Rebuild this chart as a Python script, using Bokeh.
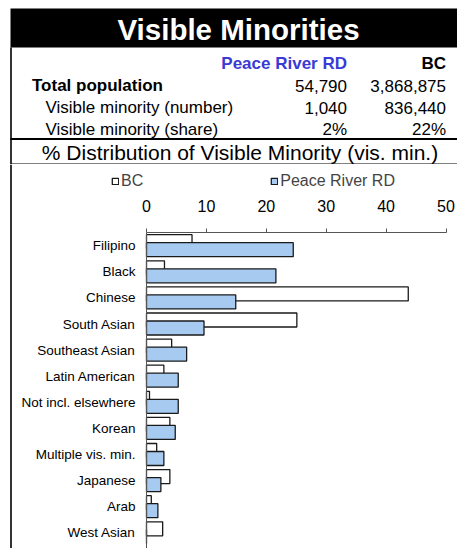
from bokeh.plotting import figure
from bokeh.layouts import column
from bokeh.models import (ColumnDataSource, Range1d, LinearAxis, FixedTicker, Legend,
                          LegendItem, Span)
from bokeh.core.properties import value
from bokeh.embed import file_html
from bokeh.resources import INLINE

# ---------------- data ----------------
title_text = "Visible Minorities"
subtitle_text = "% Distribution of Visible Minority (vis. min.)"
regions = ["Peace River RD", "BC"]
row_labels = ["Total population", "Visible minority (number)", "Visible minority (share)"]
total_population = [54790, 3868875]
vm_number = [1040, 836440]
vm_share = [2, 22]

categories = ["Filipino", "Black", "Chinese", "South Asian", "Southeast Asian",
              "Latin American", "Not incl. elsewhere", "Korean", "Multiple vis. min.",
              "Japanese", "Arab", "West Asian"]
bc_values = [7.6, 3.0, 43.7, 25.1, 4.2, 2.9, 0.5, 3.9, 1.7, 3.9, 0.8, 2.7]
pr_values = [24.5, 21.6, 14.9, 9.6, 6.7, 5.3, 5.3, 4.8, 2.9, 2.4, 1.9, 0.0]
x_ticks = [0, 10, 20, 30, 40, 50]

FONT = value("Liberation Sans")
W = 457
HEAD_H = 164
TOTAL_H = 548

# ---------------- header ----------------
ph = figure(width=W, height=HEAD_H, x_range=Range1d(0, W), y_range=Range1d(HEAD_H, 0),
            x_axis_type=None, y_axis_type=None, toolbar_location=None,
            output_backend="svg", min_border=0)
ph.outline_line_color = None
ph.quad(left=[10], right=[W], top=[8], bottom=[47], fill_color="black", line_color=None)
ph.segment(x0=[10.5], y0=[47], x1=[10.5], y1=[HEAD_H], line_color="black", line_width=1.6)
ph.segment(x0=[10], y0=[138.5], x1=[W], y1=[138.5], line_color="black", line_width=2)
ph.segment(x0=[10], y0=[163.5], x1=[W], y1=[163.5], line_color="black", line_width=1)

ph.text(x=[238], y=[29.3], text=[title_text], text_font=FONT, text_font_style="bold",
        text_font_size="29.5px", text_color="white", text_align="center",
        text_baseline="middle")

col_x = [346.5, 445.5]
ph.text(x=col_x, y=[63, 63], text=regions, text_font=FONT, text_font_style="bold",
        text_font_size="17px", text_color=["#3A3AD6", "black"], text_align="right",
        text_baseline="middle")
row_y = [85, 107, 128.5]
ph.text(x=[31.5], y=[row_y[0]], text=[row_labels[0]], text_font=FONT, text_font_style="bold",
        text_font_size="17px", text_color="black", text_align="left", text_baseline="middle")
ph.text(x=[45, 45], y=row_y[1:], text=row_labels[1:], text_font=FONT,
        text_font_size="17px", text_color="black", text_align="left", text_baseline="middle")
vals = [[f"{v:,}" for v in total_population], [f"{v:,}" for v in vm_number],
        [f"{v}%" for v in vm_share]]
for yy, row in zip(row_y, vals):
    ph.text(x=col_x, y=[yy, yy], text=row, text_font=FONT, text_font_size="17px",
            text_color="black", text_align="right", text_baseline="middle")

ph.text(x=[239.5], y=[151.5], text=[subtitle_text], text_font=FONT, text_font_size="21px",
        text_color="black", text_align="center", text_baseline="middle")

# ---------------- chart ----------------
k = 5.99          # px per unit
x0_page = 146     # page x of value 0
band = 26.1       # px per category
c0_page = 245.2   # page y of first category center

x_range = Range1d((0 - x0_page) / k, (W - x0_page) / k)
y_range = Range1d((TOTAL_H - c0_page) / band, (HEAD_H - c0_page) / band)

pc = figure(width=W, height=TOTAL_H - HEAD_H, x_range=x_range, y_range=y_range,
            x_axis_type=None, y_axis_type=None, toolbar_location=None,
            output_backend="svg", min_border=0)
pc.outline_line_color = None

idx = list(range(len(categories)))
off = 4 / band
bar_h = 14 / band
src_bc = ColumnDataSource(dict(y=[i - off for i in idx], v=bc_values, cat=categories))
src_pr = ColumnDataSource(dict(y=[i + off for i in idx], v=pr_values, cat=categories))

r_bc = pc.hbar(y="y", left=0, right="v", height=bar_h, source=src_bc,
               fill_color="white", line_color="#1a1a1a", line_width=1.3)
r_pr = pc.hbar(y="y", left=0, right="v", height=bar_h, source=src_pr,
               fill_color="#A6CAF0", line_color="#1a1a1a", line_width=1.3)

xa = LinearAxis(fixed_location=-0.5, ticker=FixedTicker(ticks=x_ticks, minor_ticks=[]),
                bounds=(0, 50))
xa.major_tick_out = 4
xa.major_tick_in = 0
xa.minor_tick_out = 0
xa.minor_tick_in = 0
xa.axis_line_color = "#555555"
xa.major_tick_line_color = "#555555"
xa.major_label_text_font = "Liberation Sans"
xa.major_label_text_font_size = "16px"
xa.major_label_text_color = "black"
xa.major_label_standoff = 17
pc.add_layout(xa, "above")

ya = LinearAxis(fixed_location=0, ticker=FixedTicker(ticks=idx, minor_ticks=[]),
                bounds=(-0.5, 12))
ya.major_label_overrides = {i: c for i, c in zip(idx, categories)}
ya.major_tick_out = 0
ya.major_tick_in = 0
ya.minor_tick_out = 0
ya.minor_tick_in = 0
ya.axis_line_color = "#555555"
ya.major_label_text_font = "Liberation Sans"
ya.major_label_text_font_size = "13.5px"
ya.major_label_text_color = "black"
ya.major_label_standoff = 11
pc.add_layout(ya, "left")

pc.add_layout(Span(location=(10.5 - x0_page) / k, dimension="height",
                   line_color="black", line_width=1.6))

legend = Legend(items=[LegendItem(label="BC", renderers=[r_bc]),
                       LegendItem(label="Peace River RD", renderers=[r_pr])],
                location=(111, 358), orientation="horizontal",
                glyph_width=8, glyph_height=8, label_standoff=2, spacing=127,
                padding=0, margin=0, border_line_color=None, background_fill_alpha=0,
                label_text_font="Liberation Sans", label_text_font_size="16px",
                label_height=16)
pc.add_layout(legend)

layout = column(ph, pc, spacing=0)
open("out.html", "w").write(file_html(layout, INLINE))
